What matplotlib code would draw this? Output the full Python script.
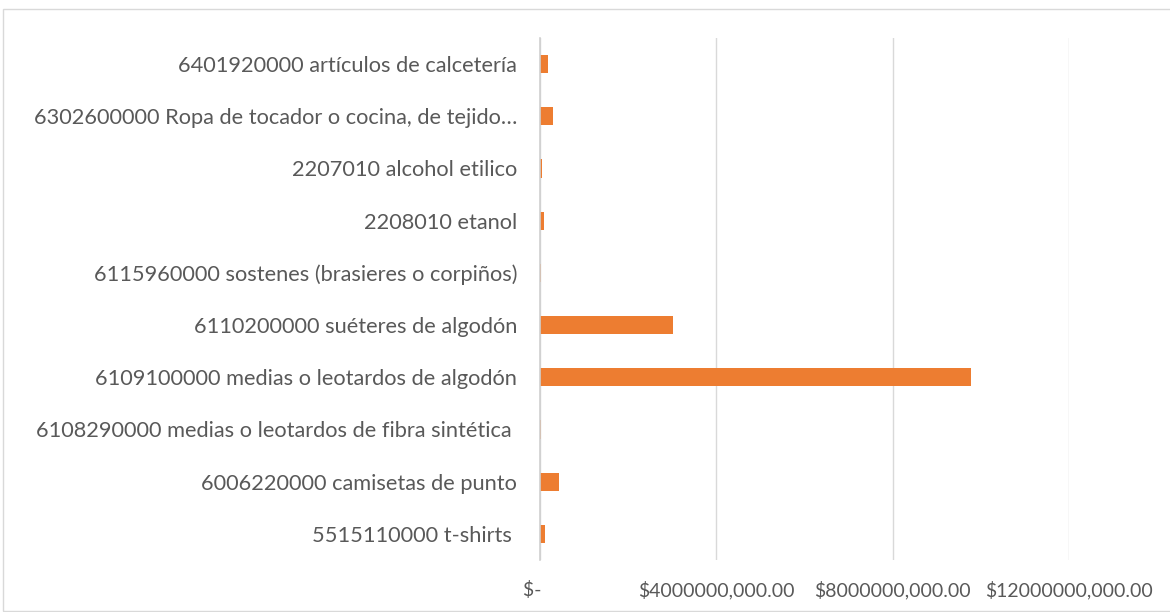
#!/usr/bin/env python3
"""
Horizontal bar chart - import values by tariff code
"""

import matplotlib
matplotlib.use('Agg')
import matplotlib.pyplot as plt
from matplotlib.patches import Rectangle
from matplotlib.ticker import FuncFormatter

# categories from bottom to top
categories = [
    '5515110000 t-shirts ',
    '6006220000 camisetas de punto',
    '6108290000 medias o leotardos de fibra sintética ',
    '6109100000 medias o leotardos de algodón',
    '6110200000 suéteres de algodón',
    '6115960000 sostenes (brasieres o corpiños)',
    '2208010 etanol',
    '2207010 alcohol etilico',
    '6302600000 Ropa de tocador o cocina, de tejido…',
    '6401920000 artículos de calcetería',
]
values = [1.13e8, 4.3e8, 1.5e7, 9.77e9, 3.01e9, 1.5e7, 8.4e7, 5.2e7, 3.0e8, 1.81e8]
tick_values = [0, 4e9, 8e9, 12e9]

plt.rcParams['font.family'] = ['Lato', 'DejaVu Sans']

fig = plt.figure(figsize=(11.7, 6.12), dpi=100)
ax = fig.add_axes([0.4615, 0.085, 0.9137 - 0.4615, 0.938 - 0.085])

# outer chart border
fig.patches.append(Rectangle((3 / 1170, 0.002), 1.2, 1 - 9 / 612 - 0.002,
                             transform=fig.transFigure, fill=False,
                             edgecolor='#D9D9D9', linewidth=1))

ax.barh(range(len(categories)), values, height=0.35, color='#ED7D31')

ax.set_xlim(0, 12e9)
ax.set_ylim(-0.5, len(categories) - 0.5)
ax.set_xticks(tick_values)


def money(v, pos):
    # excel-style accounting labels, as shown in the source chart
    if v == 0:
        return '$-   '
    return '$' + str(int(v / 1000)) + ',000.00'


ax.xaxis.set_major_formatter(FuncFormatter(money))
ax.set_yticks(range(len(categories)))
ax.set_yticklabels(categories)

ax.grid(axis='x', color='#D9D9D9', linewidth=1)
ax.set_axisbelow(True)
for s in ['top', 'right', 'bottom']:
    ax.spines[s].set_visible(False)
ax.spines['left'].set_color('#D0D0D0')
ax.spines['left'].set_linewidth(1.2)

ax.tick_params(axis='both', length=0, colors='#595959')
ax.tick_params(axis='y', pad=16.5, labelsize=15.7)
ax.tick_params(axis='x', pad=15, labelsize=14)

fig.savefig('out.png', dpi=100, facecolor='white')
